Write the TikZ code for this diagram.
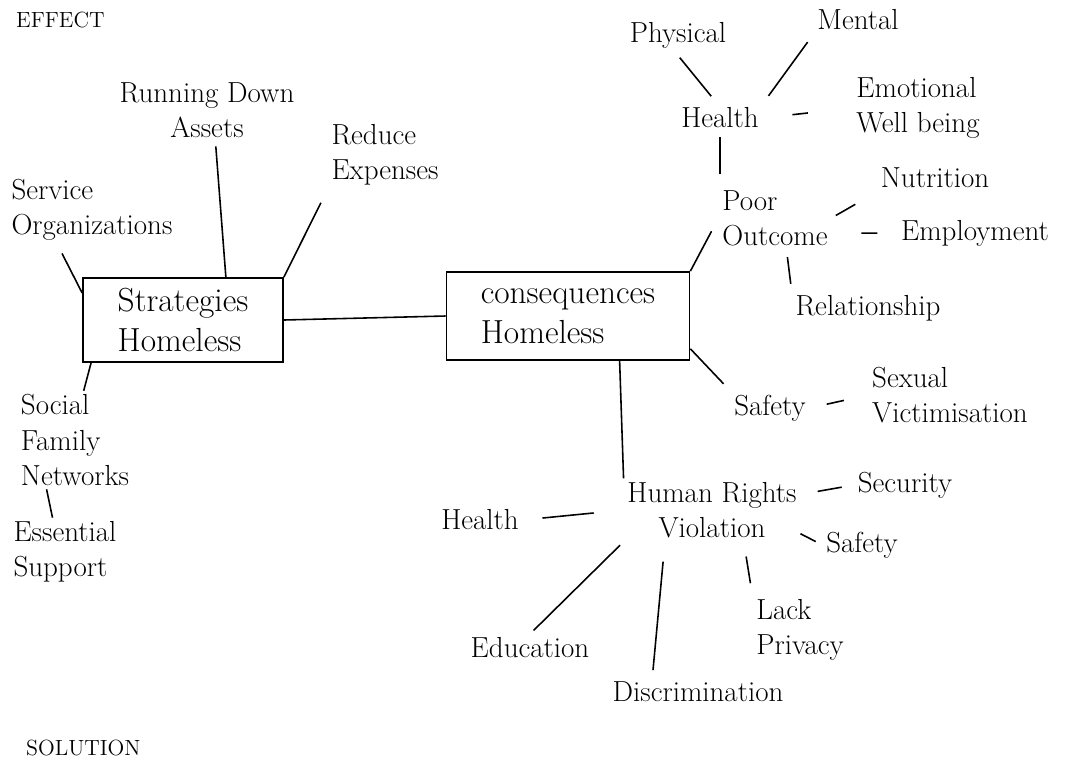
\documentclass[tikz,border=0pt]{standalone}
\usepackage{tikz}
\usetikzlibrary{calc}
\newcommand{\hand}{\fontsize{16.5}{20}\selectfont}
\newcommand{\bighand}{\fontsize{19}{23}\selectfont}

\begin{document}
\begin{tikzpicture}[
  x=0.02cm, y=-0.02cm,
  box/.style={draw, line width=1pt, minimum width=4cm, minimum height=1.68cm, align=left, font=\bighand},
  leaf/.style={align=center, font=\hand, inner sep=2pt},
  lft/.style={leaf, align=left},
  title/.style={font=\fontsize{12.5}{15}\selectfont, anchor=west},
  link/.style={line width=0.9pt}
]
  \useasboundingbox (0,0) rectangle (1075,768);

  \node[title] (effect) at (10,20) {EFFECT};
  \node[title] (solution) at (20,748) {SOLUTION};

  % the two hubs
  \node[box] (strat) at (183,320) {Strategies\\Homeless};
  \node[box, minimum width=4.86cm, minimum height=1.76cm] (cons) at (568,316) {consequences\\Homeless};

  % strategies side
  \node[leaf] (run) at (207,110) {Running Down\\Assets};
  \node[lft] (red) at (385,155) {Reduce\\Expenses};
  \node[lft] (serv) at (92,210) {Service\\Organizations};
  \node[lft] (soc) at (75,440) {Social\\Family\\Networks};
  \node[lft] (ess) at (65,552) {Essential\\Support};

  % consequences side
  \node[lft] (poor) at (775,218) {Poor\\Outcome};
  \node[leaf] (hlth) at (720,118) {Health};
  \node[leaf] (phys) at (678,35) {Physical};
  \node[leaf] (ment) at (858,20) {Mental};
  \node[lft] (emo) at (918,108) {Emotional\\Well being};
  \node[leaf] (nutr) at (935,178) {Nutrition};
  \node[leaf] (empl) at (975,233) {Employment};
  \node[leaf] (rel) at (868,308) {Relationship};
  \node[leaf] (saf) at (770,408) {Safety};
  \node[lft] (sex) at (950,395) {Sexual\\Victimisation};
  \node[leaf] (hrv) at (712,510) {Human Rights\\Violation};
  \node[leaf] (hlth2) at (480,520) {Health};
  \node[leaf] (secu) at (905,485) {Security};
  \node[leaf] (saf2) at (862,545) {Safety};
  \node[lft] (lack) at (800,630) {Lack\\Privacy};
  \node[leaf] (disc) at (698,692) {Discrimination};
  \node[leaf] (edu) at (530,648) {Education};

  \draw[link] (strat.east) -- (cons.west);

  \draw[link, shorten <=0.1cm] (run.-75) -- (strat.45);
  \draw[link, shorten <=0.3cm] (red.south west) -- (strat.north east);
  \draw[link, shorten <=0.2cm] (serv.-135) -- (strat.165);
  \draw[link] (strat.205) -- (soc.80);
  \draw[link] (soc.-120) -- (ess.110);

  \draw[link, shorten >=0.3cm] (cons.north east) -- (poor.west);
  \draw[link, shorten <=0.1cm, shorten >=0.25cm] (hlth.south) -- (hlth.south |- poor.north);
  \draw[link, shorten <=0.15cm, shorten >=0.2cm] (phys.-100) -- (hlth.100);
  \draw[link, shorten <=0.2cm, shorten >=0.2cm] (ment.south west) -- (hlth.north east);
  \draw[link, shorten <=0.6cm, shorten >=0.9cm] (hlth.east) -- (emo.west);
  \draw[link, shorten <=0.1cm, shorten >=0.5cm] (poor.east) -- (nutr.south west);
  \draw[link, shorten <=0.6cm, shorten >=0.4cm] (poor.-15) -- (empl.west);
  \draw[link, shorten <=0.15cm, shorten >=0.15cm] (poor.-70) -- (rel.north west);
  \draw[link, shorten >=0.2cm] (cons.-15) -- (saf.north west);
  \draw[link, shorten <=0.35cm, shorten >=0.5cm] (saf.east) -- (sex.west);

  \draw[link] (cons.-41) -- (hrv.north west);
  \draw[link, shorten <=0.4cm, shorten >=0.6cm] (hlth2.east) -- (hrv.west);
  \draw[link, shorten <=0.35cm, shorten >=0.25cm] (hrv.10) -- (secu.west);
  \draw[link, shorten >=0.15cm] (hrv.-15) -- (saf2.west);
  \draw[link, shorten <=0.3cm, shorten >=0.25cm] (hrv.-45) -- (lack.north west);
  \draw[link, shorten <=0.4cm] (hrv.-146) -- ($(disc.north)+(-45,-8)$);
  \draw[link, shorten <=0.1cm, shorten >=0.1cm] (hrv.south west) -- (edu.north);
\end{tikzpicture}
\end{document}
